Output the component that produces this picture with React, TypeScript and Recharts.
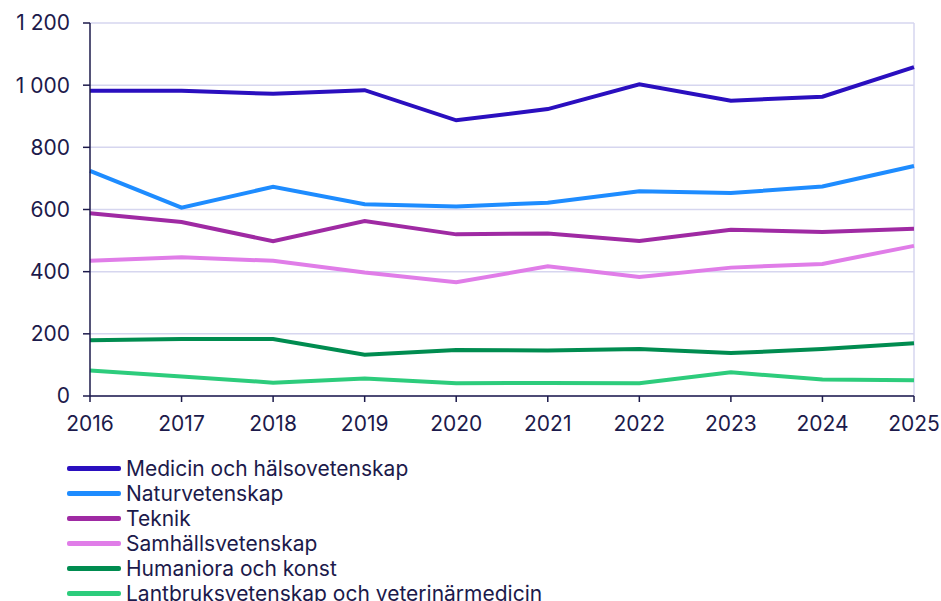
import { CartesianGrid, Line, LineChart, ReferenceLine, XAxis, YAxis } from "recharts";

const years = ["2016", "2017", "2018", "2019", "2020", "2021", "2022", "2023", "2024", "2025"];

const medicin = [982, 982, 972, 984, 887, 923, 1003, 950, 963, 1058];
const natur = [724, 606, 673, 617, 610, 622, 659, 653, 674, 740];
const teknik = [588, 560, 498, 563, 520, 523, 499, 535, 528, 538];
const samhall = [435, 446, 435, 397, 366, 417, 383, 413, 425, 483];
const humaniora = [179, 183, 183, 133, 148, 146, 151, 138, 151, 170];
const lantbruk = [82, 63, 43, 56, 41, 42, 41, 76, 53, 51];

const yTicks = [0, 200, 400, 600, 800, 1000, 1200];

const series = [
  { key: "medicin", name: "Medicin och hälsovetenskap", color: "#2a0fbf", values: medicin },
  { key: "natur", name: "Naturvetenskap", color: "#1e8cff", values: natur },
  { key: "teknik", name: "Teknik", color: "#9f2aa3", values: teknik },
  { key: "samhall", name: "Samhällsvetenskap", color: "#e07de8", values: samhall },
  { key: "humaniora", name: "Humaniora och konst", color: "#008c50", values: humaniora },
  { key: "lantbruk", name: "Lantbruksvetenskap och veterinärmedicin", color: "#2dcc7c", values: lantbruk },
];

const rows = years.map((year, i) => {
  const r: Record<string, string | number> = { year };
  for (const s of series) r[s.key] = s.values[i];
  return r;
});

const INK = "#1c1a4b";
const GRID = "#d6d6ef";
const FONT = "Inter, 'Noto Sans', sans-serif";

// swedish thousands separator: "1 200"
const fmt = (v: number) => String(v).replace(/\B(?=(\d{3})+(?!\d))/g, "\u00a0");

export default function App() {
  return (
    <div style={{ position: "absolute", left: 0, top: 0, width: 941, height: 601, overflow: "hidden", background: "#fff", fontFamily: FONT }}>
      <LineChart width={941} height={601} data={rows} margin={{ top: 23, right: 27, bottom: 165, left: 0 }}>
        <CartesianGrid vertical={false} stroke={GRID} strokeWidth={1.5} />
        <ReferenceLine x="2025" stroke={GRID} strokeWidth={1.5} />
        <XAxis
          dataKey="year"
          stroke={INK}
          strokeWidth={1.5}
          tickSize={6}
          tickMargin={14}
          height={40}
          interval={0}
          tick={{ fontSize: 21, fill: INK, fontFamily: FONT }}
        />
        <YAxis
          domain={[0, 1200]}
          ticks={yTicks}
          width={90}
          stroke={INK}
          strokeWidth={1.5}
          tickSize={7}
          tickMargin={13}
          tickFormatter={fmt}
          tick={{ fontSize: 21, fill: INK, fontFamily: FONT }}
        />
        {series.map((s) => (
          <Line key={s.key} dataKey={s.key} name={s.name} stroke={s.color} strokeWidth={4} dot={false} type="linear" isAnimationActive={false} />
        ))}
      </LineChart>
      <div style={{ position: "absolute", left: 67, top: 456 }}>
        {series.map((s) => (
          <div key={s.key} style={{ display: "flex", alignItems: "center", height: 25 }}>
            <span style={{ display: "inline-block", width: 54, height: 4.5, borderRadius: 2, background: s.color, marginRight: 5 }} />
            <span style={{ fontSize: 21, lineHeight: "25px", color: INK, whiteSpace: "nowrap" }}>{s.name}</span>
          </div>
        ))}
      </div>
    </div>
  );
}
